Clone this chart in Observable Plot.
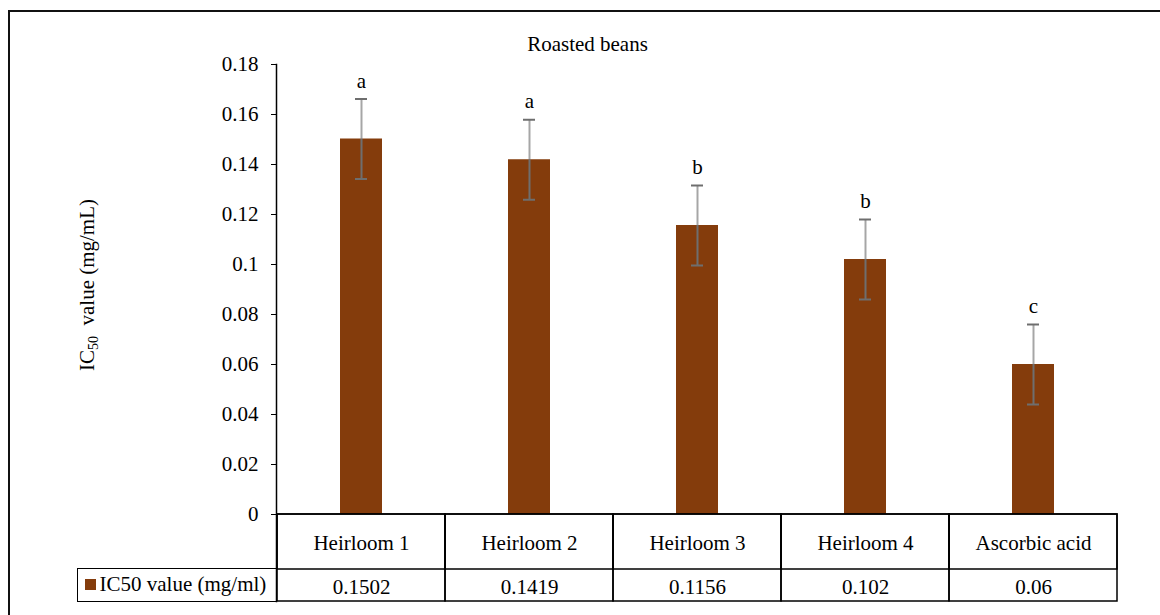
<!DOCTYPE html>
<html><head><meta charset="utf-8">
<script src="https://cdn.jsdelivr.net/npm/d3@7"></script>
<script src="https://cdn.jsdelivr.net/npm/@observablehq/plot@0.6"></script>
<style>
html,body{margin:0;padding:0;background:#fff;width:1160px;height:615px;overflow:hidden;position:relative;}
#frame{position:absolute;left:8px;top:10px;width:1400px;height:900px;border:2px solid #111;box-sizing:border-box;}
#chart{position:absolute;left:0;top:0;}
.t{position:absolute;font-family:'Liberation Serif','Times New Roman',serif;font-size:21px;line-height:1;white-space:nowrap;color:#000;}
#legend{position:absolute;left:77.25px;top:568.25px;width:199.5px;height:33.5px;box-sizing:border-box;border:1.5px solid #000;border-right:none;}
#swatch{position:absolute;left:6.25px;top:9.25px;width:11px;height:11px;}
</style></head><body>
<div id="frame"></div>
<div id="chart"></div>
<div class="t" id="title" style="left:587.5px;top:34.4px;transform:translateX(-50%)"></div>
<div class="t" id="ylabel" style="left:87px;top:284.5px;transform:translate(-50%,-50%) rotate(-90deg)">IC<sub style="font-size:14px;line-height:0;vertical-align:-0.3em">50</sub>&nbsp; value (mg/mL)</div>
<div id="legend"><span id="swatch"></span><span class="t" id="legtext" style="left:21.25px;top:4.65px"></span></div>
<script>
const titleText = "Roasted beans";
const seriesName = "IC50 value (mg/ml)";
const categories = ["Heirloom 1", "Heirloom 2", "Heirloom 3", "Heirloom 4", "Ascorbic acid"];
const values = [0.1502, 0.1419, 0.1156, 0.102, 0.06];
const errors = [0.016, 0.016, 0.016, 0.016, 0.016];
const letters = ["a", "a", "b", "b", "c"];
const yTicks = [0, 0.02, 0.04, 0.06, 0.08, 0.1, 0.12, 0.14, 0.16, 0.18];
const yTickLabels = ["0", "0.02", "0.04", "0.06", "0.08", "0.1", "0.12", "0.14", "0.16", "0.18"];
const barColor = "#843c0c";

document.getElementById("title").textContent = titleText;
document.getElementById("legtext").textContent = seriesName;
document.getElementById("swatch").style.background = barColor;

const data = categories.map((c, i) => ({cat: c, value: values[i], err: errors[i], letter: letters[i]}));

const chart = Plot.plot({
  width: 1160, height: 615,
  marginLeft: 276, marginRight: 43, marginTop: 64, marginBottom: 101,
  style: {fontFamily: "'Liberation Serif','Times New Roman',serif", fontSize: "21px", background: "transparent", color: "#000", overflow: "visible"},
  x: {domain: categories, padding: 0, axis: null},
  y: {domain: [0, 0.18]},
  marks: [
    Plot.barY(data, {x: "cat", y: "value", fill: barColor, insetLeft: 63, insetRight: 63}),
    Plot.ruleX(data, {x: "cat", y1: "value", y2: d => d.value + d.err, stroke: "#a6a6a6", strokeWidth: 2}),
    Plot.ruleX(data, {x: "cat", y1: d => d.value - d.err, y2: "value", stroke: "#6e6e6e", strokeWidth: 2}),
    Plot.tickY(data, {x: "cat", y: d => d.value + d.err, stroke: "#6e6e6e", strokeWidth: 2, insetLeft: 78, insetRight: 78}),
    Plot.tickY(data, {x: "cat", y: d => d.value - d.err, stroke: "#6e6e6e", strokeWidth: 2, insetLeft: 78, insetRight: 78}),
    Plot.text(data, {x: "cat", y: d => d.value + d.err, text: "letter", dy: -18, lineAnchor: "middle"}),
    Plot.axisY({ticks: yTicks, tickFormat: d => yTickLabels[yTicks.indexOf(d)], tickSize: 5, tickPadding: 13, label: null}),
    Plot.frame({anchor: "left", insetBottom: -87, stroke: "#000", strokeWidth: 1.5}),
    Plot.barY(data, {x: "cat", y1: 0, y2: 0, insetBottom: -87, fill: "none", stroke: "#000", strokeWidth: 1.5}),
    Plot.barY(data, {x: "cat", y1: 0, y2: 0, insetBottom: -55, fill: "none", stroke: "#000", strokeWidth: 1.5}),
    Plot.text(data, {x: "cat", y: 0, dy: 28.6, text: "cat", lineAnchor: "middle"}),
    Plot.text(data, {x: "cat", y: 0, dy: 72.3, text: d => String(d.value), lineAnchor: "middle"})
  ]
});
document.getElementById("chart").appendChild(chart);
</script>
</body></html>
